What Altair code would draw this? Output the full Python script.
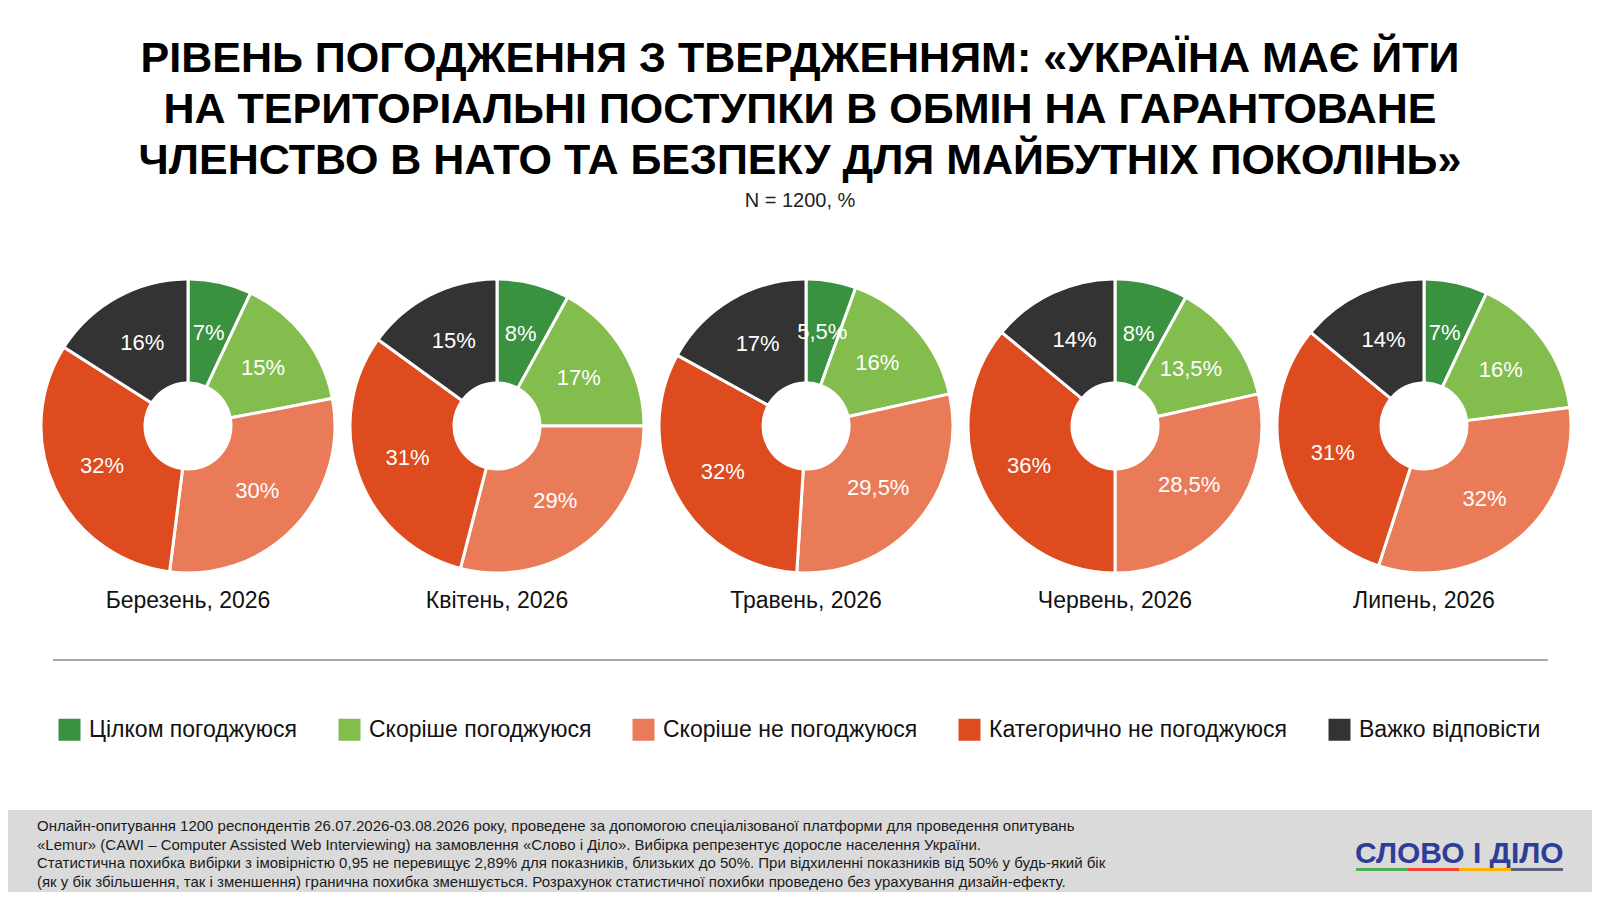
import math
import altair as alt
import pandas as pd

# ---- data ----
months = ["Березень, 2026", "Квітень, 2026", "Травень, 2026", "Червень, 2026", "Липень, 2026"]
categories = [
    "Цілком погоджуюся",
    "Скоріше погоджуюся",
    "Скоріше не погоджуюся",
    "Категорично не погоджуюся",
    "Важко відповісти",
]
fully_agree = [7, 8, 5.5, 8, 7]
rather_agree = [15, 17, 16, 13.5, 16]
rather_disagree = [30, 29, 29.5, 28.5, 32]
strongly_disagree = [32, 31, 32, 36, 31]
hard_to_say = [16, 15, 17, 14, 14]
series = [fully_agree, rather_agree, rather_disagree, strongly_disagree, hard_to_say]
colors = ["#3a913f", "#82bd4e", "#ea7b58", "#dd4b1e", "#333333"]

title_lines = [
    "РІВЕНЬ ПОГОДЖЕННЯ З ТВЕРДЖЕННЯМ: «УКРАЇНА МАЄ ЙТИ",
    "НА ТЕРИТОРІАЛЬНІ ПОСТУПКИ В ОБМІН НА ГАРАНТОВАНЕ",
    "ЧЛЕНСТВО В НАТО ТА БЕЗПЕКУ ДЛЯ МАЙБУТНІХ ПОКОЛІНЬ»",
]
subtitle = "N = 1200, %"
footer_lines = [
    "Онлайн-опитування 1200 респондентів 26.07.2026-03.08.2026 року, проведене за допомогою спеціалізованої платформи для проведення опитувань",
    "«Lemur» (CAWI – Computer Assisted Web Interviewing) на замовлення «Слово і Діло». Вибірка репрезентує доросле населення України.",
    "Статистична похибка вибірки з імовірністю 0,95 не перевищує 2,89% для показників, близьких до 50%. При відхиленні показників від 50% у будь-який бік",
    "(як у бік збільшення, так і зменшення) гранична похибка зменшується. Розрахунок статистичної похибки проведено без урахування дизайн-ефекту.",
]
logo_text = "СЛОВО І ДІЛО"
logo_colors = ["#4caf50", "#f44336", "#ffb300", "#5b6478"]

FONT = "Liberation Sans"

rows = []
for i, m in enumerate(months):
    cum = 0.0
    for j, c in enumerate(categories):
        v = series[j][i]
        rows.append(dict(month=m, cat=c, order=j, value=v, start=cum, end=cum + v,
                         mid=cum + v / 2, label=f"{v:g}".replace(".", ",") + "%"))
        cum += v
df = pd.DataFrame(rows)
one = pd.DataFrame({"a": [0]})

x_scale = alt.Scale(type="point", domain=months, range=[180, 1416], padding=0)
theta_scale = alt.Scale(domain=[0, 100], range=[0, 2 * math.pi])
CY = 418

footer_bg = alt.Chart(one).mark_rect(color="#dadada").encode(
    x=alt.value(0), x2=alt.value(1584), y=alt.value(802), y2=alt.value(884)
)

arcs = alt.Chart(df).mark_arc(radius=147, radius2=43, stroke="white", strokeWidth=3, cornerRadius=2).encode(
    x=alt.X("month:N", scale=x_scale, axis=None),
    y=alt.value(CY),
    theta=alt.Theta("start:Q", scale=theta_scale),
    theta2="end:Q",
    color=alt.Color(
        "cat:N",
        scale=alt.Scale(domain=categories, range=colors),
        legend=alt.Legend(
            orient="none", legendX=50, legendY=710, direction="horizontal", title=None,
            symbolType="square", symbolSize=484, symbolStrokeWidth=0, symbolOpacity=1,
            labelFontSize=23, labelFont=FONT, labelColor="#111111", labelOffset=8,
            columnPadding=40, labelLimit=0, padding=0,
        ),
    ),
)

pie_labels = alt.Chart(df).mark_text(radius=95, fontSize=22, font=FONT, color="white",
                                     baseline="middle", align="center").encode(
    x=alt.X("month:N", scale=x_scale, axis=None),
    y=alt.value(CY),
    theta=alt.Theta("mid:Q", scale=theta_scale),
    text="label:N",
)

month_labels = alt.Chart(pd.DataFrame({"month": months})).mark_text(
    fontSize=23, font=FONT, color="#111111", baseline="middle", align="center"
).encode(
    x=alt.X("month:N", scale=x_scale, axis=None),
    y=alt.value(593),
    text="month:N",
)

title = alt.Chart(one).mark_text(
    text=title_lines, fontSize=43, font=FONT, fontWeight="bold", color="#000000",
    align="center", baseline="alphabetic", lineHeight=51,
).encode(x=alt.value(792), y=alt.value(64))

sub = alt.Chart(one).mark_text(
    text=subtitle, fontSize=20, font=FONT, color="#222222", align="center", baseline="middle"
).encode(x=alt.value(792), y=alt.value(193))

sep = alt.Chart(one).mark_rule(color="#8c8c8c", strokeWidth=1.5).encode(
    x=alt.value(45), x2=alt.value(1540), y=alt.value(652)
)

footer = alt.Chart(one).mark_text(
    text=footer_lines, fontSize=15, font=FONT, color="#1a1a1a", align="left",
    baseline="alphabetic", lineHeight=18.7,
).encode(x=alt.value(29), y=alt.value(823))

logo = alt.Chart(one).mark_text(
    text=logo_text, fontSize=30, font=FONT, fontWeight="bold", color="#2e3d98",
    align="left", baseline="alphabetic",
).encode(x=alt.value(1347), y=alt.value(855))

edges = [1348, 1400, 1451, 1503, 1555]
bars = [
    alt.Chart(one).mark_rect(color=logo_colors[k]).encode(
        x=alt.value(edges[k]), x2=alt.value(edges[k + 1]), y=alt.value(860), y2=alt.value(863)
    )
    for k in range(4)
]

chart = alt.layer(footer_bg, arcs, pie_labels, month_labels, title, sub, sep, footer, logo, *bars).properties(
    width=1584, height=884, padding=0, autosize="none", background="white"
).configure_view(stroke=None)

chart.save("out.html", embed_options={"renderer": "svg", "actions": False})
